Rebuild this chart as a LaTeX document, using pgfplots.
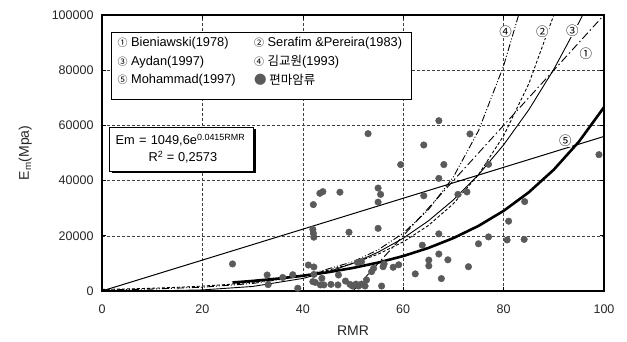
\documentclass[border=0pt]{standalone}
\usepackage{fontspec}
\setmainfont{Liberation Sans}
\newfontfamily\kr{Noto Sans CJK KR}
\usepackage{pgfplots}
\pgfplotsset{compat=1.18}
\definecolor{ptc}{HTML}{5A5A5A}
\begin{document}
\begin{tikzpicture}[x=1pt,y=1pt]
\useasboundingbox (0,0) rectangle (627,342);
\begin{axis}[
 at={(102pt,51pt)}, anchor=south west,
 scale only axis, width=502pt, height=276pt,
 xmin=0,xmax=100,ymin=0,ymax=100000,
 xtick={0,20,40,60,80,100}, ytick={0,20000,40000,60000,80000,100000},
 xticklabels={0,20,40,60,80,100},
 yticklabels={0,20000,40000,60000,80000,100000},
 scaled y ticks=false,
 grid=major, grid style={densely dashed, black!75, line width=0.5pt},
 axis line style={line width=2.5pt},
 tick style={black, line width=0.6pt}, tick align=inside, major tick length=4pt,
 ticklabel style={font=\fontsize{12.5}{14}\selectfont, text=black!85},
 xticklabel style={yshift=-10pt},
 yticklabel style={xshift=-5pt},
 xlabel={RMR}, ylabel={E\textsubscript{m}(Mpa)},
 label style={font=\fontsize{14}{16}\selectfont, text=black!85},
 xlabel style={yshift=-6pt},
 ylabel style={yshift=13pt},
]
% data points
\addplot[only marks, mark=*, mark size=3.3pt, color=ptc, mark options={draw=ptc, fill=ptc}] coordinates {
(26.0,9800) (32.9,5800) (33.1,2300) (36.0,4900) (38.0,5900) (39.0,1000)
(41.1,9400) (42.2,8700) (42.2,6000) (42.0,3400) (42.5,3100) (43.8,4600)
(43.5,2200) (44.2,2200) (45.6,2400) (47.0,2200) (47.1,5800) (48.5,3600)
(49.4,2400) (49.9,1800) (50.6,2500) (51.1,1800) (51.7,2500) (52.4,1800)
(52.7,4000) (50.9,10300) (51.7,10600) (53.7,7000) (54.1,8200) (55.7,1800)
(56.0,8800) (56.2,9800) (58.0,8600) (59.1,9500) (62.4,6200)
(42.0,22300) (42.1,20900) (42.2,19500) (49.2,21300) (55.0,22700)
(42.1,31300) (43.4,35400) (44.0,36000) (47.4,35800)
(55.0,37300) (55.5,35000) (55.0,32200) (53.0,57000) (59.5,45800)
(64.1,52900) (67.1,61700) (73.3,56900) (68.1,45800) (67.1,40800)
(77.0,45900) (64.1,34500) (70.9,35000) (72.7,35900)
(67.1,20700) (63.8,16600) (67.1,13400) (65.1,11200) (65.1,9100)
(68.9,11300) (67.6,4500) (73.0,8800) (75.0,17100) (77.0,19600)
(80.7,18500) (81.0,25300) (84.2,32400) (84.1,18700) (99.0,49400)
};
% thin straight line
\addplot[black, line width=1pt] coordinates {(0,0) (100,56000)};
% (2) Serafim & Pereira
\addplot[black, line width=0.9pt, dash pattern=on 3pt off 2pt] coordinates {
(0,562) (5,750) (10,1000) (15,1334) (20,1778) (25,2371) (30,3162) (35,4217)
(40,5623) (45,7499) (50,10000) (55,13335) (60,17783) (65,23714) (70,31623)
(75,42170) (80,56234) (85,74989) (90,100000)};
% (3) Aydan
\addplot[black, line width=0.9pt] coordinates {
(0,0) (10,34) (20,391) (30,1643) (40,4551) (45,6905) (50,10026) (55,14050)
(60,19118) (65,25380) (70,32994) (75,42120) (80,52930) (85,65604) (90,80314)
(95,97254) (96,100926)};
% (4) Kim
\addplot[black, line width=0.9pt, dash pattern=on 7pt off 2pt on 1pt off 2pt on 1pt off 2pt] coordinates {
(0,354) (10,699) (20,1379) (30,2723) (40,5374) (50,10606) (55,14900) (60,20939)
(65,29420) (70,41330) (75,58060) (80,81560) (83,100040)};
% (1) Bieniawski
\addplot[black, line width=0.9pt, dash pattern=on 8pt off 3pt on 1.5pt off 3pt] coordinates {
(50,0) (100,100000)};
% (5) regression
\addplot[black, line width=2.6pt] coordinates {
(26,3088) (30,3645) (35,4486) (40,5520) (45,6793) (50,8359) (55,10287)
(60,12659) (65,15579) (70,19171) (75,23591) (80,29032) (85,35726)
(90,43960) (95,54093) (100,66580)};
% curve labels
\node[fill=white, inner sep=0.5pt, font=\kr\fontsize{12.5}{13}\selectfont] at (axis cs:80.4,93800) {④};
\node[fill=white, inner sep=0.5pt, font=\kr\fontsize{12.5}{13}\selectfont] at (axis cs:87.7,93800) {②};
\node[fill=white, inner sep=0.5pt, font=\kr\fontsize{12.5}{13}\selectfont] at (axis cs:93.7,94200) {③};
\node[fill=white, inner sep=0.5pt, font=\kr\fontsize{12.5}{13}\selectfont] at (axis cs:96.4,86000) {①};
\node[fill=white, inner sep=0.5pt, font=\kr\fontsize{12.5}{13}\selectfont] at (axis cs:92.3,54300) {⑤};
% legend box
\draw[black, line width=0.7pt, fill=white] (axis cs:1.8,93840) rectangle (axis cs:61.6,69600);
\node[anchor=west, font=\fontsize{12.8}{14}\selectfont] at (axis cs:2.4,89960) {{\kr\fontsize{10}{12}\selectfont ①} Bieniawski(1978)};
\node[anchor=west, font=\fontsize{12.8}{14}\selectfont] at (axis cs:2.4,83080) {{\kr\fontsize{10}{12}\selectfont ③} Aydan(1997)};
\node[anchor=west, font=\fontsize{12.8}{14}\selectfont] at (axis cs:2.4,76450) {{\kr\fontsize{10}{12}\selectfont ⑤} Mohammad(1997)};
\node[anchor=west, font=\fontsize{12.8}{14}\selectfont] at (axis cs:29.6,89960) {{\kr\fontsize{10}{12}\selectfont ②} Serafim \&Pereira(1983)};
\node[anchor=west, font=\fontsize{12.8}{14}\selectfont] at (axis cs:29.6,83080) {{\kr\fontsize{10}{12}\selectfont ④} {\kr\fontsize{12.5}{14}\selectfont 김교원}(1993)};
\node[anchor=west, font=\fontsize{12.8}{14}\selectfont] at (axis cs:29.6,76450) {{\kr\fontsize{12.5}{14}\selectfont \textcolor{ptc}{●} 편마암류}};
% equation box
\fill[black] (axis cs:2.0,58700) rectangle (axis cs:30.7,42700);
\draw[black, line width=0.8pt, fill=white] (axis cs:1.4,59400) rectangle (axis cs:30.1,43500);
\node[anchor=west, font=\fontsize{12.8}{14}\selectfont] at (axis cs:2.0,54700) {Em\,\,=\,\,1049,6e\textsuperscript{0.0415RMR}};
\node[anchor=west, font=\fontsize{12.8}{14}\selectfont] at (axis cs:8.6,48500) {R\textsuperscript{2} = 0,2573};
\end{axis}
\end{tikzpicture}
\end{document}
